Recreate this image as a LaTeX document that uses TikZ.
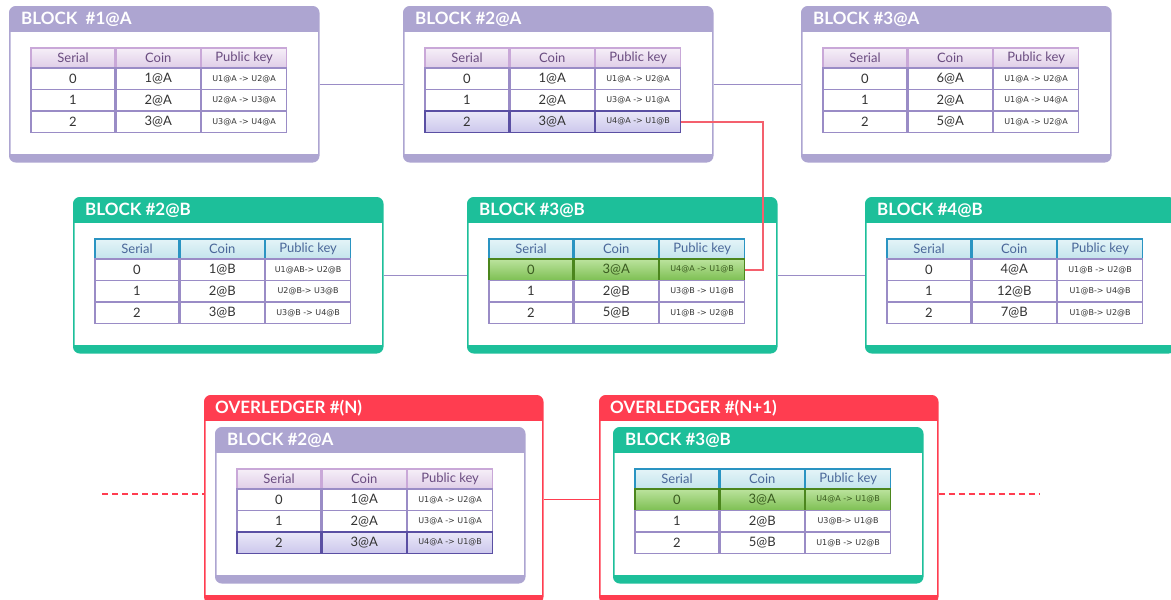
\documentclass[tikz,border=0pt]{standalone}
\usepackage{fontspec}
\setmainfont{Lato}
\newfontfamily\keyfont{DejaVu Sans}
\usetikzlibrary{positioning}

\definecolor{chainA}{HTML}{ADA5D1}
\definecolor{chainB}{HTML}{1DBF9A}
\definecolor{overred}{HTML}{FF3D50}
\definecolor{gridline}{HTML}{9A8CC6}
\definecolor{darktext}{HTML}{333333}
\definecolor{headAtop}{HTML}{F6EFF8}
\definecolor{headAbot}{HTML}{DFCDE7}
\definecolor{headAline}{HTML}{C9A8D8}
\definecolor{headAtext}{HTML}{6A4C80}
\definecolor{headBtop}{HTML}{E4F4F8}
\definecolor{headBbot}{HTML}{C3E4EC}
\definecolor{headBline}{HTML}{2A94C2}
\definecolor{headBtext}{HTML}{4A6799}
\definecolor{outtop}{HTML}{EAE8F8}
\definecolor{outbot}{HTML}{CCC7EC}
\definecolor{outAline}{HTML}{5A4FA3}
\definecolor{intop}{HTML}{BCE39E}
\definecolor{inbot}{HTML}{7DBF52}
\definecolor{inline}{HTML}{4B861D}
\definecolor{intext}{HTML}{3A5A20}
\definecolor{movered}{HTML}{F4606D}

\tikzset{
  blockbox/.style={draw=#1, line width=1.5pt, fill=white, rounded corners=6pt,
    anchor=north west, inner sep=0pt, minimum width=309pt, minimum height=155pt,
    path picture={
      \fill[#1, sharp corners] (path picture bounding box.north west)
        rectangle ([yshift=-25pt]path picture bounding box.north east);
      \fill[#1, sharp corners] ([yshift=8pt]path picture bounding box.south west)
        rectangle (path picture bounding box.south east);}},
  blocktitle/.style={anchor=west, inner sep=0pt, text=white,
    font=\fontsize{17}{17}\selectfont\bfseries},
  cell/.style={draw=gridline, line width=1.3pt, fill=white, inner sep=0pt,
    minimum width=84pt, minimum height=21.5pt, text=darktext,
    font=\fontsize{13}{13}\selectfont},
  keycol/.style={minimum width=85pt},
  keytext/.style={font=\keyfont\fontsize{8}{8}\selectfont},
  headA/.style={draw=headAline, top color=headAtop, bottom color=headAbot,
    text=headAtext, minimum height=20pt},
  headB/.style={draw=headBline, top color=headBtop, bottom color=headBbot,
    text=headBtext, minimum height=20pt},
  usual/.style={},
  outgoing/.style={draw=outAline, top color=outtop, bottom color=outbot},
  incoming/.style={draw=inline, top color=intop, bottom color=inbot, text=intext},
  chainlink/.style={draw=gridline, line width=1.2pt},
  ledgerlink/.style={draw=overred, line width=1.2pt},
  movelink/.style={draw=movered, line width=1.5pt}
}

% name, corner, colour, title, head style, rows
\newcommand{\ledgerblock}[6]{%
  \node[blockbox=#3] (#1) at (#2) {};
  \node[blocktitle] (#1-t) at ([xshift=12pt,yshift=-13.5pt]#1.north west) {#4};
  \begin{scope}[shift={([xshift=22pt,yshift=-42pt]#1.north west)}]
    \node[cell, #5] (#1-hs) at (42,10) {Serial};
    \node[cell, #5, right=0pt of #1-hs] (#1-hc) {Coin};
    \node[cell, #5, keycol, right=0pt of #1-hc] (#1-hk) {Public key};
    \foreach \row/\coin/\pk/\kind in {#6}{
      \node[cell, \kind] (#1-\row-s) at (42, 30.75+21.5*\row) {\row};
      \node[cell, \kind, right=0pt of #1-\row-s] (#1-\row-c) {\coin};
      \node[cell, keycol, keytext, \kind, right=0pt of #1-\row-c] (#1-\row-k) {\pk};
    }
  \end{scope}
}

\begin{document}
\begin{tikzpicture}[x=1pt, y=-1pt]
  \useasboundingbox (0,0) rectangle (1171,600);
  % ------ chain A ----------------
  \ledgerblock{bA1}{9,6}{chainA}{BLOCK\ \ \#1@A}{headA}
    {0/1@A/U1@A -> U2@A/usual, 1/2@A/U2@A -> U3@A/usual, 2/3@A/U3@A -> U4@A/usual}
  \ledgerblock{bA2}{403,6}{chainA}{BLOCK \#2@A}{headA}
    {0/1@A/U1@A -> U2@A/usual, 1/2@A/U3@A -> U1@A/usual, 2/3@A/U4@A -> U1@B/outgoing}
  \ledgerblock{bA3}{801,6}{chainA}{BLOCK \#3@A}{headA}
    {0/6@A/U1@A -> U2@A/usual, 1/2@A/U1@A -> U4@A/usual, 2/5@A/U1@A -> U2@A/usual}
  % ------ chain B ----------------
  \ledgerblock{bB2}{73,197}{chainB}{BLOCK \#2@B}{headB}
    {0/1@B/U1@AB-> U2@B/usual, 1/2@B/U2@B-> U3@B/usual, 2/3@B/U3@B -> U4@B/usual}
  \ledgerblock{bB3}{467,197}{chainB}{BLOCK \#3@B}{headB}
    {0/3@A/U4@A -> U1@B/incoming, 1/2@B/U3@B -> U1@B/usual, 2/5@B/U1@B -> U2@B/usual}
  \ledgerblock{bB4}{865,197}{chainB}{BLOCK \#4@B}{headB}
    {0/4@A/U1@B -> U2@B/usual, 1/12@B/U1@B-> U4@B/usual, 2/7@B/U1@B-> U2@B/usual}
  % ------ overledger ----------------
  \node[blockbox=overred, minimum width=338pt, minimum height=207pt] (ovN) at (204,395) {};
  \node[blocktitle] (ovN-t) at ([xshift=11pt,yshift=-13.5pt]ovN.north west) {OVERLEDGER \#(N)};
  \ledgerblock{ovN-b}{215,427}{chainA}{BLOCK \#2@A}{headA}
    {0/1@A/U1@A -> U2@A/usual, 1/2@A/U3@A -> U1@A/usual, 2/3@A/U4@A -> U1@B/outgoing}
  \node[blockbox=overred, minimum width=338pt, minimum height=207pt] (ovN1) at (599,395) {};
  \node[blocktitle] (ovN1-t) at ([xshift=11pt,yshift=-13.5pt]ovN1.north west) {OVERLEDGER \#(N+1)};
  \ledgerblock{ovN1-b}{613,427}{chainB}{BLOCK \#3@B}{headB}
    {0/3@A/U4@A -> U1@B/incoming, 1/2@B/U3@B-> U1@B/usual, 2/5@B/U1@B -> U2@B/usual}
  % ------ links ----------------
  \draw[chainlink] (bA1) -- (bA2);
  \draw[chainlink] (bA2) -- (bA3);
  \draw[chainlink] (bB2) -- (bB3);
  \draw[chainlink] (bB3) -- (bB4);
  \draw[ledgerlink] (ovN) -- (ovN1);
  \coordinate (ovN-in) at (102,494);
  \coordinate (ovN1-out) at (1040,494);
  \draw[ledgerlink, dash pattern=on 6pt off 4pt] (ovN-in) -- (ovN-in -| ovN.west);
  \draw[ledgerlink, dash pattern=on 6pt off 4pt] (ovN1.east |- ovN1-out) -- (ovN1-out);
  \coordinate (bend) at (763,0);
  \draw[movelink] (bA2-2-k.east) -- (bA2-2-k.east -| bend) |- (bB3-0-k.east);
\end{tikzpicture}
\end{document}
